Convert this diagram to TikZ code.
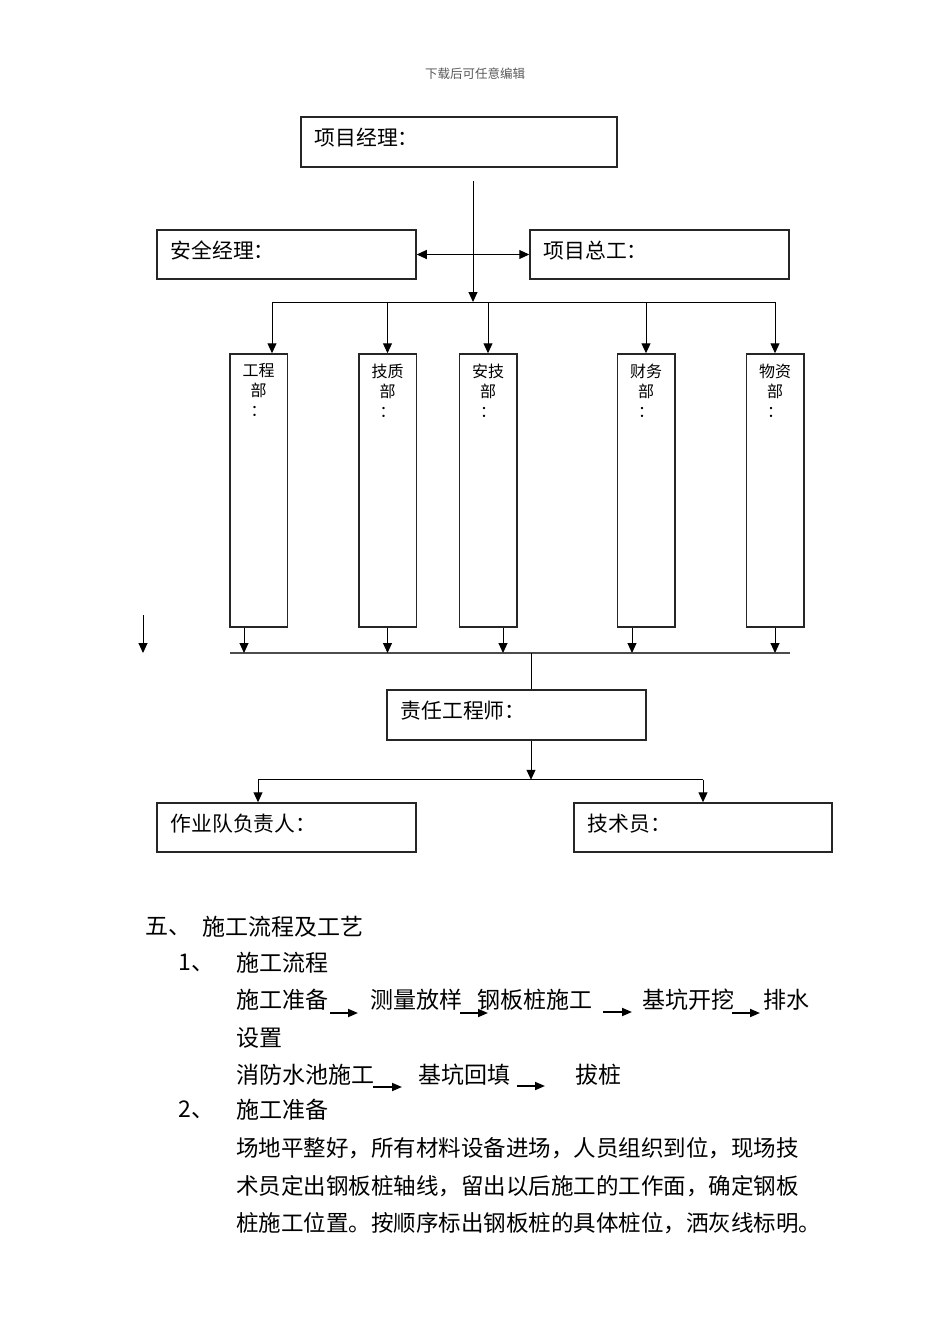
\documentclass[tikz,border=0pt]{standalone}
\usepackage{fontspec}
\setmainfont{Noto Sans CJK SC}
\usetikzlibrary{arrows.meta}
\tikzset{
  box/.style={draw=black!85, line width=0.75pt, inner sep=0pt},
  dept/.style={box, minimum width=28.75pt, minimum height=136.5pt},
  lbl/.style={anchor=west, inner sep=0pt, font=\fontsize{10.4pt}{12pt}\selectfont},
  depttxt/.style={anchor=north, inner sep=0pt, align=center, font=\fontsize{8pt}{10pt}\selectfont},
  txt/.style={anchor=west, inner sep=0pt, font=\fontsize{11.5pt}{14pt}\selectfont},
  para/.style={anchor=west, inner sep=0pt, font=\fontsize{11.25pt}{14pt}\selectfont},
  arr/.style={-{Triangle[length=5pt,width=4.5pt]}, line width=0.5pt},
  arrtwo/.style={{Triangle[length=5pt,width=4.5pt]}-{Triangle[length=5pt,width=4.5pt]}, line width=0.5pt},
  flowarr/.style={-{Triangle[length=5pt,width=4pt]}, line width=0.9pt},
  bar/.style={line width=1pt, draw=black!70}
}
\begin{document}
\begin{tikzpicture}[x=0.5pt,y=-0.5pt]
  \useasboundingbox (0,0) rectangle (950,1344);
  \node[inner sep=0pt, text=black!65, font=\fontsize{6.25pt}{8pt}\selectfont] (hdr) at (475,74) {下载后可任意编辑};
  % manager boxes
  \node[box, minimum width=158pt, minimum height=25pt] (pm) at (459,142) {};
  \node[box, minimum width=129.5pt, minimum height=24.5pt] (se) at (286.5,254.5) {};
  \node[box, minimum width=129.5pt, minimum height=24.5pt] (zg) at (659.5,254.5) {};
  \node[lbl] (pm-t) at ([shift={(14,21)}]pm.north west) {项目经理：};
  \node[lbl] (se-t) at ([shift={(14,21)}]se.north west) {安全经理：};
  \node[lbl] (zg-t) at ([shift={(14,21)}]zg.north west) {项目总工：};
  \coordinate (pmfoot) at (473,181);
  \coordinate (hub) at (473,302);
  \draw[arr] (pmfoot) -- (hub);
  \draw[arrtwo] (se.east) -- (zg.west);
  % departments
  \foreach \n/\x/\t in {d1/258.5/工程,d2/387.5/技质,d3/488/安技,d4/646/财务,d5/775/物资}{
    \node[dept] (\n) at (\x,490.5) {};
    \node[depttxt] (\n-t) at ([shift={(0,10)}]\n.north) {\t\\部\\：};}
  \coordinate (barl) at (230,653);
  \coordinate (barr) at (790,653);
  \draw[bar] (barl) -- (barr);
  \foreach \n/\dt/\db in {d1/13.5/-14.5,d2/0/0,d3/0/15,d4/0/-14,d5/0/0}{
    \coordinate (\n-in) at ([shift={(\dt,0)}]\n.north);
    \coordinate (\n-out) at ([shift={(\db,0)}]\n.south);
    \draw[arr] (\n-in |- hub) -- (\n-in);
    \draw[arr] (\n-out) -- (\n-out |- barl);}
  \draw[line width=0.5pt] (d1-in |- hub) -- (d5-in |- hub);
  \coordinate (lone-a) at (143,615);
  \coordinate (lone-b) at (143,653);
  \draw[arr] (lone-a) -- (lone-b);
  % engineer and below
  \node[box, minimum width=129.5pt, minimum height=25pt] (ze) at (516.5,715) {};
  \node[lbl] (ze-t) at ([shift={(14,21)}]ze.north west) {责任工程师：};
  \node[box, minimum width=129.5pt, minimum height=24.5pt] (zy) at (286.5,827.5) {};
  \node[box, minimum width=129pt, minimum height=24.5pt] (js) at (703,827.5) {};
  \node[lbl] (zy-t) at ([shift={(14,21)}]zy.north west) {作业队负责人：};
  \node[lbl] (js-t) at ([shift={(14,21)}]js.north west) {技术员：};
  \coordinate (ze-in) at ([shift={(14.5,0)}]ze.north);
  \coordinate (ze-out) at ([shift={(14.5,0)}]ze.south);
  \coordinate (split) at ([shift={(0,39)}]ze-out);
  \coordinate (zy-in) at ([shift={(-28.5,0)}]zy.north);
  \draw[line width=0.5pt] (ze-in |- barl) -- (ze-in);
  \draw[arr] (ze-out) -- (split);
  \draw[line width=0.5pt] (zy-in |- split) -- (js.north |- split);
  \draw[arr] (zy-in |- split) -- (zy-in);
  \draw[arr] (js.north |- split) -- (js.north);
  % text below the chart
  \node[txt] (sec) at (145,927) {五、};
  \node[txt] (sec-t) at (202,927) {施工流程及工艺};
  \node[txt] (n1) at (178,963) {1、};
  \node[txt] (n1-t) at (236,963) {施工流程};
  \node[txt] (f1) at (236,1000) {施工准备};
  \node[txt] (f2) at (370,1000) {测量放样};
  \node[txt] (f3) at (477,1000) {钢板桩施工};
  \node[txt] (f4) at (642,1000) {基坑开挖};
  \node[txt] (f5) at (763,1000) {排水};
  \node[txt] (f6) at (236,1038) {设置};
  \node[txt] (g1) at (236,1075) {消防水池施工};
  \node[txt] (g2) at (418,1075) {基坑回填};
  \node[txt] (g3) at (575,1075) {拔桩};
  \foreach \i/\a/\b/\y in {1/330/358/1013,2/460/488/1013,3/603/632/1012,4/732/760/1013,5/373/402/1087,6/517/545/1086}{
    \coordinate (fa\i) at (\a,\y);
    \coordinate (fb\i) at (\b,\y);
    \draw[flowarr] (fa\i) -- (fb\i);}
  \node[txt] (n2) at (178,1110) {2、};
  \node[txt] (n2-t) at (236,1110) {施工准备};
  \node[para] (p1) at (236,1148) {场地平整好，所有材料设备进场，人员组织到位，现场技};
  \node[para] (p2) at (236,1186) {术员定出钢板桩轴线，留出以后施工的工作面，确定钢板};
  \node[para] (p3) at (236,1223) {桩施工位置。按顺序标出钢板桩的具体桩位，洒灰线标明。};
\end{tikzpicture}
\end{document}
